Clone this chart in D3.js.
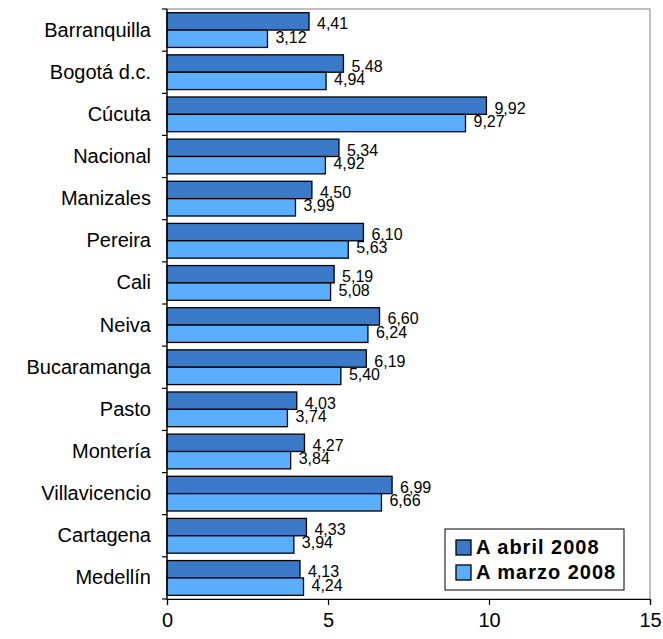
<!DOCTYPE html>
<html>
<head>
<meta charset="utf-8">
<script src="https://cdn.jsdelivr.net/npm/d3@7"></script>
<style>
  body { margin: 0; background: #fff; }
  svg text { font-family: Arial, "Liberation Sans", Helvetica, sans-serif; fill: #000; }
</style>
</head>
<body>
<div id="chart"></div>
<script>
// data
var cities = ["Barranquilla", "Bogotá d.c.", "Cúcuta", "Nacional", "Manizales", "Pereira", "Cali",
  "Neiva", "Bucaramanga", "Pasto", "Montería", "Villavicencio", "Cartagena", "Medellín"]
var abril = [4.41, 5.48, 9.92, 5.34, 4.50, 6.10, 5.19, 6.60, 6.19, 4.03, 4.27, 6.99, 4.33, 4.13]
var marzo = [3.12, 4.94, 9.27, 4.92, 3.99, 5.63, 5.08, 6.24, 5.40, 3.74, 3.84, 6.66, 3.94, 4.24]
var seriesNames = ["A abril 2008", "A marzo 2008"]
var seriesColors = ["#3A7AC8", "#5AAEFC"]
var xTicks = [0, 5, 10, 15]

var W = 663, H = 639
// plot box (not "top", that one is window.top)
var plotL = 167, plotR = 650, plotT = 9, plotB = 599

var svg = d3.select("#chart").append("svg")
  .attr("width", W).attr("height", H)

var x = d3.scaleLinear().domain([0, 15]).range([plotL, plotR])
var y = d3.scaleBand().domain(cities).range([plotT, plotB]).padding(0)
var inner = d3.scaleBand().domain([0, 1]).range([3.7, y.bandwidth() - 3.7])

var fmt = (v) => v.toFixed(2).replace(".", ",")

// plot frame
svg.append("rect")
  .attr("x", plotL).attr("y", plotT)
  .attr("width", plotR - plotL).attr("height", plotB - plotT)
  .attr("fill", "none").attr("stroke", "#808080").attr("stroke-width", 1)

var rows = cities.map((c, i) => ({ city: c, vals: [abril[i], marzo[i]] }))

var group = svg.selectAll(".row")
  .data(rows)
  .enter()
  .append("g")
  .attr("class", "row")
  .attr("transform", (d) => "translate(0," + y(d.city) + ")")

group.selectAll("rect")
  .data((d) => d.vals)
  .enter()
  .append("rect")
  .attr("x", x(0))
  .attr("y", (v, j) => inner(j))
  .attr("width", (v) => x(v) - x(0))
  .attr("height", inner.bandwidth())
  .attr("fill", (v, j) => seriesColors[j])
  .attr("stroke", "#000")
  .attr("stroke-width", 1.3)

group.selectAll(".val")
  .data((d) => d.vals)
  .enter()
  .append("text")
  .attr("class", "val")
  .attr("x", (v) => x(v) + 8)
  .attr("y", (v, j) => inner(j) + inner.bandwidth() / 2 + (j == 0 ? 8 : 4))
  .attr("font-size", "16px")
  .text((v) => fmt(v))

// category labels
svg.selectAll(".cat")
  .data(cities)
  .enter()
  .append("text")
  .attr("class", "cat")
  .attr("x", 151)
  .attr("y", (c) => y(c) + y.bandwidth() / 2 + 6.5)
  .attr("text-anchor", "end")
  .attr("font-size", "20px")
  .text((c) => c)

// left axis with ticks on band edges
svg.append("line")
  .attr("x1", plotL).attr("x2", plotL).attr("y1", plotT).attr("y2", plotB)
  .attr("stroke", "#000").attr("stroke-width", 1.2)
svg.selectAll(".ltick")
  .data(cities.map((c) => y(c)).concat([plotB]))
  .enter()
  .append("line")
  .attr("x1", plotL - 5).attr("x2", plotL)
  .attr("y1", (d) => d).attr("y2", (d) => d)
  .attr("stroke", "#000").attr("stroke-width", 1.2)

// bottom axis
var xAxis = svg.append("g")
  .attr("transform", "translate(0," + plotB + ")")
  .call(d3.axisBottom(x).tickValues(xTicks).tickSize(6).tickPadding(8).tickFormat(d3.format("d")))
xAxis.attr("font-family", null).attr("font-size", null)
xAxis.select(".domain").attr("stroke-width", 1.2)
xAxis.selectAll(".tick line").attr("stroke-width", 1.2)
xAxis.selectAll("text")
  .attr("font-size", "20px")

// legend
var legend = svg.append("g")
legend.append("rect")
  .attr("x", 445).attr("y", 529).attr("width", 179).attr("height", 61)
  .attr("fill", "#fff").attr("stroke", "#000").attr("stroke-width", 1)
var items = legend.selectAll(".item")
  .data(seriesNames)
  .enter()
  .append("g")
  .attr("transform", (d, i) => "translate(456," + (540 + i * 25) + ")")
items.append("rect")
  .attr("width", 15).attr("height", 15)
  .attr("fill", (d, i) => seriesColors[i])
  .attr("stroke", "#000").attr("stroke-width", 1.3)
items.append("text")
  .attr("x", 20).attr("y", 14)
  .attr("font-size", "20px")
  .attr("font-weight", "bold")
  .attr("letter-spacing", "1px")
  .text((d) => d)
</script>
</body>
</html>
